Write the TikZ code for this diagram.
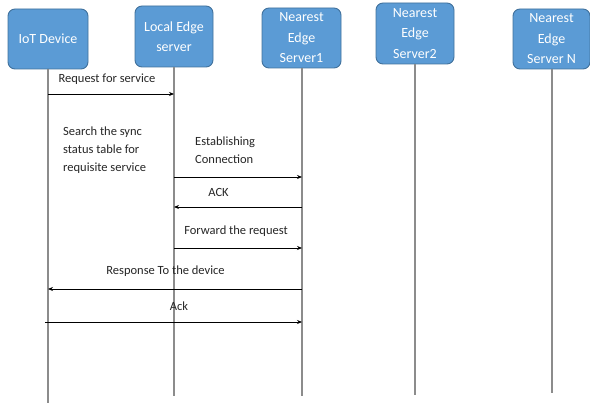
\documentclass[tikz,border=0pt]{standalone}
\usepackage{fontspec}
\setmainfont{Carlito}
\usetikzlibrary{arrows.meta}
\definecolor{boxblue}{HTML}{5B9BD5}
\definecolor{boxedge}{HTML}{41719C}
\definecolor{lifegray}{HTML}{8C8C8C}
\tikzset{
  actor/.style={rounded corners=7pt, fill=boxblue, draw=boxedge, line width=0.9pt,
    text=white, minimum width=78pt, minimum height=60pt, inner sep=0pt, align=center,
    font=\fontsize{14}{20.5}\selectfont},
  life/.style={draw=lifegray, line width=1.3pt},
  msg/.style={draw=black, line width=0.8pt, -{Stealth[length=5pt,width=4pt]}},
  lbl/.style={inner sep=0pt, font=\fontsize{12.5}{18}\selectfont, text=black!85}
}
\begin{document}
\begin{tikzpicture}[x=1pt,y=-1pt]
\useasboundingbox (0,0) rectangle (590,404);
% actors
\node[actor, minimum width=80pt] (iot) at (48,39) {IoT Device};
\node[actor, minimum height=61pt] (local) at (174,36.5) {Local Edge\\server};
\node[actor, minimum width=79pt] (s1) at (301.5,38) {Nearest\\Edge\\Server1};
\node[actor, minimum height=61pt] (s2) at (415,33.5) {Nearest\\Edge\\Server2};
\node[actor, minimum width=77pt] (sn) at (551.5,39) {Nearest\\Edge\\Server N};
% lifeline ends
\coordinate (iotEnd) at (48,403);
\coordinate (localEnd) at (174,396);
\coordinate (s1End) at (302,396);
\coordinate (s2End) at (415,395);
\coordinate (snEnd) at (552,393);
\path[life] (iot.south) -- (iotEnd);
\path[life] (local.south) -- (localEnd);
\path[life] (s1.south -| s1End) -- (s1End);
\path[life] (s2.south) -- (s2End);
\path[life] (sn.south -| snEnd) -- (snEnd);
% messages
\draw[msg] (iotEnd |- 0,94) -- (localEnd |- 0,94);
\draw[msg] (localEnd |- 0,177) -- (s1End |- 0,177);
\draw[msg] (s1End |- 0,207) -- (localEnd |- 0,207);
\draw[msg] (localEnd |- 0,248) -- (s1End |- 0,248);
\draw[msg] (s1End |- 0,289) -- (iotEnd |- 0,289);
\coordinate (ackStart) at (45,322);
\draw[msg] (ackStart) -- (s1End |- 0,322);
% labels
\node[lbl] (l1) at (107,79) {Request for service};
\node[lbl, align=left, anchor=west] (l2) at (63,150) {Search the sync\\status table for\\requisite service};
\node[lbl, align=left, anchor=west] (l3) at (195,150) {Establishing\\Connection};
\node[lbl] (l4) at (218.5,192) {ACK};
\node[lbl] (l5) at (236,231) {Forward the request};
\node[lbl] (l6) at (165.5,271) {Response To the device};
\node[lbl] (l7) at (179,306) {Ack};
\end{tikzpicture}
\end{document}
